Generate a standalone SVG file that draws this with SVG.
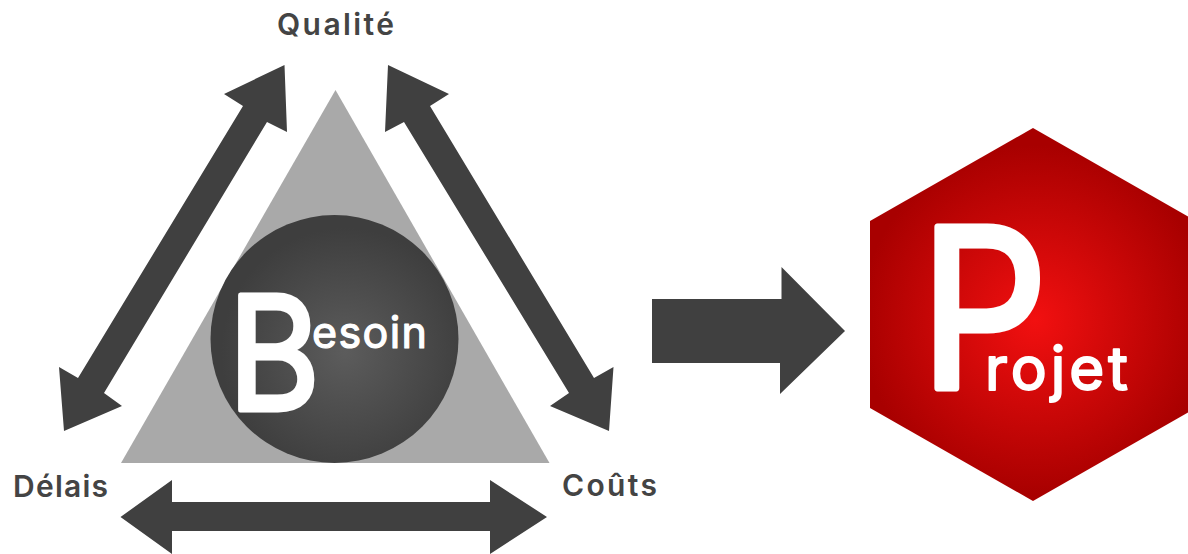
<svg xmlns="http://www.w3.org/2000/svg" width="1188" height="554" viewBox="0 0 1188 554">
<style>
.arrow{fill:#404040}
.label{font-family:"Inter","Liberation Sans",sans-serif;font-size:30px;font-weight:600;fill:#444444}
.w{font-family:"Inter","Liberation Sans",sans-serif;fill:#ffffff;stroke:#ffffff;stroke-linejoin:round}
</style>
<defs>
<radialGradient id="gCircle" gradientUnits="userSpaceOnUse" cx="345" cy="352" r="124">
<stop offset="0" stop-color="#5c5c5c"/><stop offset="1" stop-color="#3e3e3e"/>
</radialGradient>
<radialGradient id="gHex" gradientUnits="userSpaceOnUse" cx="1035" cy="320" r="175">
<stop offset="0" stop-color="#f21010"/><stop offset="1" stop-color="#a80000"/>
</radialGradient>
</defs>
<rect width="1188" height="554" fill="#ffffff"/>
<g id="besoin">
<polygon points="335.5,90 549.5,463 121,463" fill="#a9a9a9"/>
<circle cx="334.5" cy="339" r="124" fill="url(#gCircle)"/>
<text class="w" transform="translate(228,410) scale(.89,1)" font-size="158" stroke-width="5">B</text>
<text class="w" x="312" y="348" font-size="43" stroke-width="1.2" textLength="115" lengthAdjust="spacing">esoin</text>
</g>
<g id="projet">
<polygon points="1033,128 1196,221 1196,408 1033,501 870,408 870,221" fill="url(#gHex)"/>
<text class="w" transform="translate(920,388) scale(.9,1)" font-size="222" stroke-width="7">P</text>
<text class="w" x="985" y="390" font-size="60" stroke-width="2" textLength="143" lengthAdjust="spacing">rojet</text>
</g>
<g id="qualite"><text class="label" x="277" y="35" textLength="117" lengthAdjust="spacing">Qualité</text></g>
<g id="delais"><text class="label" x="13" y="497" textLength="95" lengthAdjust="spacing">Délais</text></g>
<g id="couts"><text class="label" x="562" y="496" textLength="95" lengthAdjust="spacing">Coûts</text></g>
<g id="connectors">
<polygon class="arrow" points="284.5,65 287,132 267,122 104,393 122,406 64,431 59,367 78,378 243,106 224,94"/>
<polygon class="arrow" points="388,65 449,94 430,106 594,378 613.5,367 609,431 550,406 569,393 404,122 385,132"/>
<polygon class="arrow" points="120.5,517 172,480 172,502 490,502 490,480 547,517 490,554 490,531 172,531 172,554"/>
<polygon class="arrow" points="652,299 781.5,299 781.5,267 845,331 780,394 780,363 652,363"/>
</g>
</svg>
